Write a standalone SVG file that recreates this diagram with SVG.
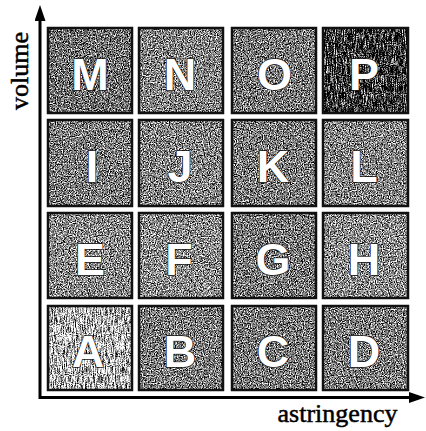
<svg xmlns="http://www.w3.org/2000/svg" width="426" height="431" viewBox="0 0 426 431">
<defs>
<style>
.f{stroke:none}
.bd{fill:none;stroke:#111;stroke-width:2.5}
.lt{font-family:"Liberation Sans",Arial,sans-serif;font-weight:bold;font-size:45px;fill:#fff;stroke:#1a1a1a;stroke-width:1.4;text-anchor:middle;paint-order:stroke}
.ax{fill:none;stroke:#000;stroke-width:3;marker-start:url(#arr);marker-end:url(#arr)}
.lab{font-family:"Liberation Serif","Times New Roman",serif;font-size:26px;fill:#000;stroke:#000;stroke-width:0.5;text-anchor:middle}
</style>
<filter id="grain" x="0" y="0" width="100%" height="100%" color-interpolation-filters="sRGB">
<feTurbulence type="fractalNoise" baseFrequency="0.85" numOctaves="2" seed="4" result="n"/>
<feColorMatrix in="n" type="matrix" values="1 0 0 0 0 1 0 0 0 0 1 0 0 0 0 0 0 0 0 1" result="g"/>
<feComposite in="SourceGraphic" in2="g" operator="arithmetic" k1="0" k2="1" k3="2.4" k4="-1.2" result="c"/>
<feComposite in="c" in2="SourceGraphic" operator="in"/>
</filter>
<filter id="streak" x="0" y="0" width="100%" height="100%" color-interpolation-filters="sRGB">
<feTurbulence type="fractalNoise" baseFrequency="0.9 0.12" numOctaves="2" seed="7" result="n"/>
<feColorMatrix in="n" type="matrix" values="1 0 0 0 0 1 0 0 0 0 1 0 0 0 0 0 0 0 0 1" result="g"/>
<feTurbulence type="fractalNoise" baseFrequency="0.9" numOctaves="1" seed="11" result="n2"/>
<feColorMatrix in="n2" type="matrix" values="1 0 0 0 0 1 0 0 0 0 1 0 0 0 0 0 0 0 0 1" result="g2"/>
<feComposite in="g" in2="g2" operator="arithmetic" k1="0" k2="1" k3="1" k4="-0.5" result="gg"/>
<feComposite in="SourceGraphic" in2="gg" operator="arithmetic" k1="0" k2="1" k3="2.2" k4="-1.1" result="c"/>
<feComposite in="c" in2="SourceGraphic" operator="in"/>
</filter>
<marker id="arr" markerWidth="16" markerHeight="11" refX="0" refY="5.5" orient="auto-start-reverse" markerUnits="userSpaceOnUse">
<path d="M0,0 L16,5.5 L0,11 z" fill="#000"/>
</marker>
</defs>
<rect width="426" height="431" fill="#fff"/>

<g id="connectors">
<path class="ax" d="M40,21 L40,397.5 L409,397.5"/>
</g>

<text class="lab" transform="translate(28,71) rotate(-90)">volume</text>
<text class="lab" x="337.5" y="422">astringency</text>

<g id="node-M"><rect class="f" x="48" y="28" width="84" height="85" fill="#6e6e6e" filter="url(#grain)"/><rect class="bd" x="48" y="28" width="84" height="85"/><text class="lt" x="90" y="90">M</text></g>
<g id="node-N"><rect class="f" x="139" y="28" width="84" height="85" fill="#828282" filter="url(#grain)"/><rect class="bd" x="139" y="28" width="84" height="85"/><text class="lt" x="180" y="90">N</text></g>
<g id="node-O"><rect class="f" x="232" y="28" width="84" height="85" fill="#777" filter="url(#grain)"/><rect class="bd" x="232" y="28" width="84" height="85"/><text class="lt" x="274.5" y="90">O</text></g>
<g id="node-P"><rect class="f" x="323" y="28" width="85" height="85" fill="#303030" filter="url(#streak)"/><rect class="bd" x="323" y="28" width="85" height="85"/><text class="lt" x="364" y="90">P</text></g>

<g id="node-I"><rect class="f" x="48" y="120" width="84" height="86" fill="#7a7a7a" filter="url(#grain)"/><rect class="bd" x="48" y="120" width="84" height="86"/><text class="lt" x="92" y="182">I</text></g>
<g id="node-J"><rect class="f" x="139" y="120" width="84" height="86" fill="#828282" filter="url(#grain)"/><rect class="bd" x="139" y="120" width="84" height="86"/><text class="lt" x="180" y="182">J</text></g>
<g id="node-K"><rect class="f" x="232" y="120" width="84" height="86" fill="#7a7a7a" filter="url(#grain)"/><rect class="bd" x="232" y="120" width="84" height="86"/><text class="lt" x="273" y="182">K</text></g>
<g id="node-L"><rect class="f" x="323" y="120" width="85" height="86" fill="#828282" filter="url(#grain)"/><rect class="bd" x="323" y="120" width="85" height="86"/><text class="lt" x="364" y="182">L</text></g>

<g id="node-E"><rect class="f" x="48" y="213" width="84" height="85" fill="#888" filter="url(#grain)"/><rect class="bd" x="48" y="213" width="84" height="85"/><text class="lt" x="90" y="274.5">E</text></g>
<g id="node-F"><rect class="f" x="139" y="213" width="84" height="85" fill="#8a8a8a" filter="url(#grain)"/><rect class="bd" x="139" y="213" width="84" height="85"/><text class="lt" x="179" y="274.5">F</text></g>
<g id="node-G"><rect class="f" x="232" y="213" width="84" height="85" fill="#777" filter="url(#grain)"/><rect class="bd" x="232" y="213" width="84" height="85"/><text class="lt" x="273" y="274.5">G</text></g>
<g id="node-H"><rect class="f" x="323" y="213" width="85" height="85" fill="#8a8a8a" filter="url(#grain)"/><rect class="bd" x="323" y="213" width="85" height="85"/><text class="lt" x="364" y="274.5">H</text></g>

<g id="node-A"><rect class="f" x="48" y="306" width="84" height="84" fill="#b4b4b4" filter="url(#streak)"/><rect class="bd" x="48" y="306" width="84" height="84" stroke="#999"/><text class="lt" x="88" y="367" stroke="#aaa">A</text></g>
<g id="node-B"><rect class="f" x="139" y="306" width="84" height="84" fill="#7a7a7a" filter="url(#grain)"/><rect class="bd" x="139" y="306" width="84" height="84"/><text class="lt" x="180" y="367">B</text></g>
<g id="node-C"><rect class="f" x="232" y="306" width="84" height="84" fill="#777" filter="url(#grain)"/><rect class="bd" x="232" y="306" width="84" height="84"/><text class="lt" x="273" y="367">C</text></g>
<g id="node-D"><rect class="f" x="323" y="306" width="85" height="84" fill="#7a7a7a" filter="url(#grain)"/><rect class="bd" x="323" y="306" width="85" height="84"/><text class="lt" x="364" y="367">D</text></g>
</svg>
